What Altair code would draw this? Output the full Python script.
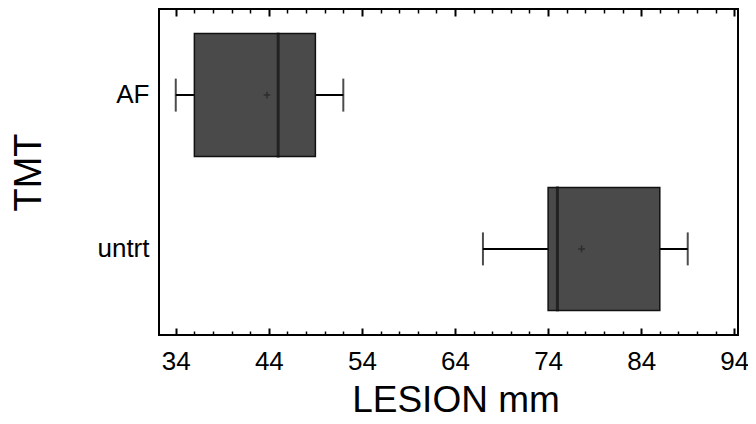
import altair as alt
import pandas as pd

groups = ["AF", "untrt"]
low = [34.0, 67.0]
q1 = [36.0, 74.0]
median = [45.0, 75.0]
q3 = [49.0, 86.0]
high = [52.0, 89.0]
mean = [43.8, 77.6]

major_ticks = [34, 44, 54, 64, 74, 84, 94]
minor_ticks = [v for v in range(34, 95, 2) if v not in major_ticks]

df = pd.DataFrame({"TMT": groups, "low": low, "q1": q1, "median": median,
                   "q3": q3, "high": high, "mean": mean})

FONT = "Liberation Sans"
W, H = 579, 326
xscale = alt.Scale(domain=[32.2, 94.4], nice=False, zero=False)
yscale = alt.Scale(domain=groups, paddingInner=0.2, paddingOuter=0.16)

YAXIS = alt.Axis(title="TMT", ticks=False, domain=False,
                 labelFont=FONT, labelFontSize=26, labelColor="black",
                 labelPadding=10, titleFont=FONT, titleFontSize=38,
                 titleFontWeight="normal", titleColor="black",
                 titlePadding=48, offset=0)

def yenc():
    return alt.Y("TMT:N", sort=groups, scale=yscale, axis=YAXIS)

def label_axis():
    return alt.Axis(orient="bottom", values=major_ticks, domain=False, grid=False,
                    ticks=False, offset=0, labelFont=FONT, labelFontSize=26,
                    labelColor="black", labelPadding=13, labelFlush=False,
                    labelOverlap=False, title="LESION mm", titleFont=FONT,
                    titleFontSize=37, titleFontWeight="normal", titleColor="black",
                    titlePadding=8, titleX=W / 2 + 7)

def tick_axis(orient, major):
    return alt.Axis(orient=orient, values=major_ticks if major else minor_ticks,
                    domain=False, grid=False, ticks=True, labels=False, title=None,
                    tickSize=alt.ExprRef(expr="-7" if major else "-4"),
                    tickWidth=2 if major else 1.5, tickColor="black", offset=0)

base = alt.Chart(df)

whisker = base.mark_rule(color="black", strokeWidth=2).encode(
    x=alt.X("low:Q", scale=xscale, axis=label_axis()),
    x2="high:Q",
    y=yenc(),
)

box = base.mark_bar(color="#4a4a4a", stroke="#111111", strokeWidth=1.5).encode(
    x=alt.X("q1:Q", scale=xscale, axis=tick_axis("bottom", True)),
    x2="q3:Q",
    y=yenc(),
)

med = base.mark_tick(color="#111111", thickness=3, size=125).encode(
    x=alt.X("median:Q", scale=xscale, axis=tick_axis("bottom", False)),
    y=yenc(),
)

cap_lo = base.mark_tick(color="black", thickness=2, size=33).encode(
    x=alt.X("low:Q", scale=xscale, axis=tick_axis("top", True)),
    y=yenc(),
)

cap_hi = base.mark_tick(color="black", thickness=2, size=33).encode(
    x=alt.X("high:Q", scale=xscale, axis=tick_axis("top", False)),
    y=yenc(),
)

mean_pt = base.mark_point(shape="M-1,0L1,0M0,-1L0,1", size=45, filled=False,
                          stroke="#222222", strokeWidth=1.5).encode(
    x=alt.X("mean:Q", scale=xscale, axis=None),
    y=yenc(),
)

chart = alt.layer(whisker, box, med, cap_lo, cap_hi, mean_pt).resolve_scale(
    x="shared", y="shared"
).resolve_axis(x="independent").properties(
    width=W, height=H,
    autosize=alt.AutoSizeParams(type="none"),
    padding={"left": 151, "top": 1, "right": 10, "bottom": 89},
    background="white",
).configure_view(stroke="black", strokeWidth=2)

chart.save("out.html", embed_options={"renderer": "svg", "actions": False})
